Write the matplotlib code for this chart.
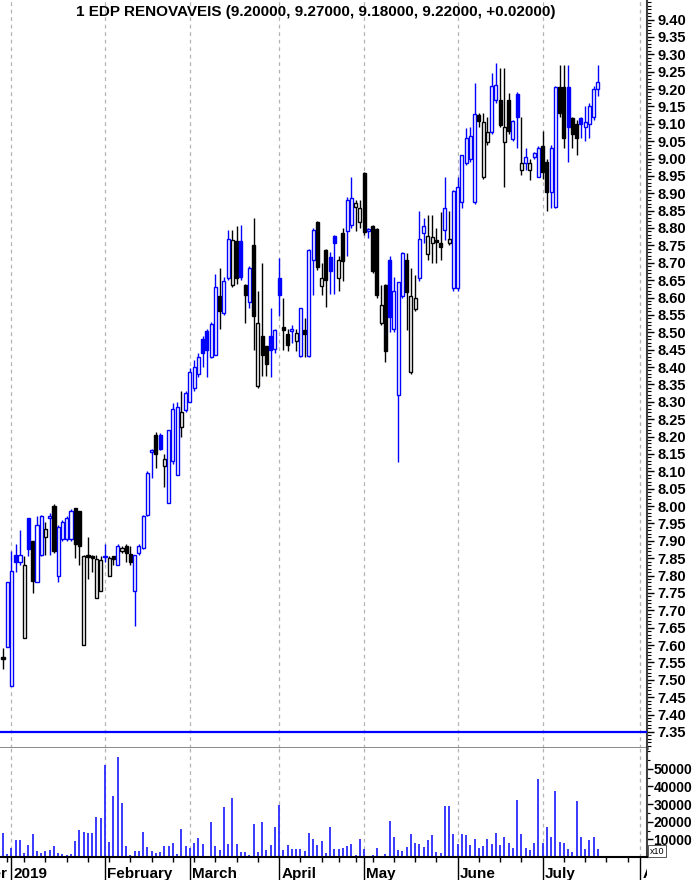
import matplotlib
matplotlib.use("Agg")
import matplotlib.pyplot as plt
from matplotlib import font_manager
from matplotlib.ticker import MultipleLocator
import numpy as np
import pandas as pd

# ---------------- data ----------------
symbol = "1 EDP RENOVAVEIS"
holidays = ['2019-01-01', '2019-04-19', '2019-04-22', '2019-05-01']

opens = [
    7.565, 7.595,
    7.483, 7.86, 7.84, 7.62, 7.965, 7.90, 7.78, 7.86, 7.91, 7.965, 8.00, 7.80, 7.905, 7.905, 7.905, 7.995, 7.985, 7.60, 7.86, 7.855, 7.735, 7.755,
    7.852, 7.80, 7.855, 7.83, 7.87, 7.885, 7.862, 7.755, 7.865, 7.88, 7.975, 8.155, 8.205, 8.205, 8.115, 8.01, 8.13, 8.09, 8.227, 8.275,
    8.30, 8.34, 8.38, 8.48, 8.505, 8.43, 8.435, 8.605, 8.555, 8.655, 8.636, 8.763, 8.763, 8.636, 8.588, 8.75, 8.345, 8.489, 8.46, 8.489, 8.451,
    8.655, 8.516, 8.495, 8.505, 8.476, 8.432, 8.506, 8.432, 8.708, 8.818, 8.633, 8.737, 8.716, 8.777, 8.655, 8.786, 8.79, 8.81, 8.86, 8.818,
    8.959, 8.79, 8.806, 8.796, 8.526, 8.636, 8.708, 8.51, 8.32, 8.604, 8.708, 8.387, 8.566, 8.655, 8.787, 8.725, 8.758, 8.765, 8.756, 8.794, 8.758, 8.627,
    8.627, 8.876, 8.986, 9.00, 8.874, 9.125, 8.948, 9.048, 9.077, 9.168, 9.168, 9.048, 9.168, 9.055, 9.186, 8.967, 8.986, 8.967, 9.005, 8.948,
    9.036, 8.99, 8.905, 8.86, 9.206, 9.206, 9.206, 9.116, 9.10, 9.116, 9.09, 9.10, 9.12, 9.20,
]
highs = [
    7.59, 7.78,
    7.87, 7.89, 7.93, 7.855, 7.965, 7.90, 7.97, 7.975, 7.955, 7.98, 8.005, 7.945, 7.96, 7.97, 7.99, 7.995, 7.985, 7.86, 7.91, 7.86, 7.86, 7.855,
    7.89, 7.856, 7.855, 7.89, 7.885, 7.89, 7.885, 7.86, 7.89, 7.975, 8.10, 8.165, 8.214, 8.21, 8.15, 8.22, 8.297, 8.30, 8.33, 8.33,
    8.397, 8.42, 8.44, 8.49, 8.51, 8.53, 8.667, 8.685, 8.66, 8.794, 8.794, 8.806, 8.81, 8.64, 8.69, 8.828, 8.62, 8.70, 8.46, 8.57, 8.51,
    8.714, 8.598, 8.51, 8.52, 8.51, 8.57, 8.54, 8.74, 8.80, 8.82, 8.70, 8.74, 8.73, 8.78, 8.72, 8.80, 8.89, 8.946, 8.88, 8.88,
    8.96, 8.80, 8.81, 8.80, 8.636, 8.64, 8.72, 8.66, 8.645, 8.73, 8.728, 8.685, 8.665, 8.85, 8.828, 8.837, 8.837, 8.80, 8.847, 8.946, 8.85, 8.91,
    8.946, 9.01, 9.087, 9.09, 9.216, 9.13, 9.13, 9.12, 9.247, 9.274, 9.26, 9.26, 9.189, 9.11, 9.19, 9.119, 9.03, 9.00, 9.02, 9.035,
    9.08, 9.00, 9.04, 9.21, 9.27, 9.27, 9.27, 9.12, 9.11, 9.12, 9.15, 9.16, 9.21, 9.27,
]
lows = [
    7.53, 7.595,
    7.483, 7.81, 7.83, 7.62, 7.855, 7.75, 7.78, 7.855, 7.86, 7.86, 7.865, 7.78, 7.90, 7.90, 7.90, 7.85, 7.83, 7.60, 7.79, 7.81, 7.735, 7.755,
    7.84, 7.80, 7.83, 7.83, 7.865, 7.84, 7.83, 7.655, 7.86, 7.875, 7.97, 8.08, 8.11, 8.16, 8.054, 8.01, 8.12, 8.09, 8.20, 8.27,
    8.30, 8.33, 8.37, 8.40, 8.37, 8.425, 8.435, 8.51, 8.55, 8.65, 8.63, 8.64, 8.65, 8.527, 8.57, 8.449, 8.34, 8.374, 8.374, 8.37, 8.44,
    8.547, 8.449, 8.445, 8.47, 8.445, 8.43, 8.43, 8.43, 8.607, 8.68, 8.607, 8.574, 8.61, 8.61, 8.62, 8.648, 8.72, 8.80, 8.79, 8.80,
    8.78, 8.77, 8.67, 8.60, 8.52, 8.415, 8.50, 8.50, 8.127, 8.60, 8.506, 8.38, 8.56, 8.648, 8.757, 8.708, 8.70, 8.70, 8.708, 8.765, 8.75, 8.62,
    8.62, 8.857, 8.98, 8.99, 8.87, 9.09, 8.94, 9.04, 9.07, 9.16, 9.09, 8.919, 9.07, 9.05, 9.03, 8.953, 8.967, 8.938, 9.00, 8.948,
    8.94, 8.85, 8.857, 8.857, 9.12, 9.03, 8.99, 9.03, 9.01, 9.06, 9.05, 9.06, 9.11, 9.18,
]
closes = [
    7.56, 7.78,
    7.814, 7.84, 7.86, 7.83, 7.875, 7.785, 7.945, 7.97, 7.935, 7.97, 7.87, 7.94, 7.955, 7.965, 7.985, 7.89, 7.885, 7.855, 7.853, 7.85, 7.848, 7.845,
    7.856, 7.85, 7.847, 7.885, 7.88, 7.865, 7.84, 7.86, 7.885, 7.97, 8.096, 8.16, 8.15, 8.165, 8.135, 8.22, 8.28, 8.285, 8.27, 8.325,
    8.387, 8.40, 8.43, 8.44, 8.45, 8.525, 8.63, 8.562, 8.648, 8.767, 8.765, 8.655, 8.66, 8.607, 8.684, 8.547, 8.526, 8.434, 8.41, 8.449, 8.506,
    8.607, 8.506, 8.463, 8.508, 8.499, 8.569, 8.495, 8.738, 8.794, 8.689, 8.655, 8.65, 8.677, 8.758, 8.708, 8.705, 8.88, 8.885, 8.873, 8.857,
    8.789, 8.797, 8.677, 8.607, 8.578, 8.447, 8.545, 8.62, 8.645, 8.727, 8.617, 8.604, 8.598, 8.767, 8.806, 8.777, 8.775, 8.76, 8.746, 8.857, 8.767, 8.907,
    8.917, 9.01, 9.058, 9.065, 9.128, 9.108, 9.106, 9.077, 9.209, 9.212, 9.096, 9.09, 9.08, 9.108, 9.119, 8.986, 9.005, 8.986, 9.015, 9.03,
    8.96, 8.905, 9.03, 9.206, 9.13, 9.06, 9.09, 9.07, 9.058, 9.10, 9.106, 9.15, 9.20, 9.22,
]
volumes = [
    13400, 1700,
    4900, 9600, 9600, 2100, 6800, 12800, 3400, 2100, 3400, 4000, 6200, 2100, 1700, 1100, 1700, 9100, 15300, 14000, 13400, 13400, 22500, 21900,
    52100, 8700, 34600, 56500, 30800, 6200, 1100, 3400, 3400, 14000, 5500, 3400, 2500, 3000, 6300, 6300, 7700, 1700, 16000, 6300,
    4900, 7700, 11000, 7200, 600, 19700, 6300, 4000, 28500, 7200, 33300, 7200, 2800, 2800, 1100, 18800, 2800, 19700, 3800, 6600, 16900,
    29500, 4000, 6600, 4700, 4700, 4700, 3400, 13600, 10400, 6600, 8900, 2000, 16900, 4300, 4300, 4900, 6300, 7500, 1100, 10400,
    4300, 800, 1100, 4900, 200, 1700, 20600, 11300, 4000, 3600, 5500, 13200, 7700, 7400, 5500, 9900, 12700, 2600, 2500, 28900, 28900, 13200,
    7400, 13200, 12700, 6600, 10400, 5300, 6300, 10100, 7200, 13800, 6600, 11500, 7700, 5300, 32300, 13200, 5300, 4000, 7700, 44200,
    7800, 16800, 11200, 37400, 8300, 7800, 4400, 2700, 31700, 11200, 4400, 9600, 11500, 4400,
]
price_ticks = np.round(np.arange(7.35, 9.4001, 0.05), 2)
volume_ticks = [10000, 20000, 30000, 40000, 50000]
hline_level = 7.35

# ---------------- helpers ----------------
def has_font(name):
    try:
        font_manager.findfont(font_manager.FontProperties(family=name), fallback_to_default=False)
        return True
    except Exception:
        return False

BASE = 'Liberation Sans' if has_font('Liberation Sans') else 'DejaVu Sans'
plt.rcParams['font.family'] = [BASE, 'DejaVu Sans']
if has_font('Liberation Sans Narrow'):
    TITLE_FAM, TITLE_SIZE = ['Liberation Sans Narrow', BASE], 12.5
else:
    TITLE_FAM, TITLE_SIZE = [BASE], 11

o = np.array(opens); h = np.array(highs); l = np.array(lows); c = np.array(closes)
v = np.array(volumes)
n = len(c)
dates_all = pd.bdate_range('2018-12-28', '2019-08-30', freq='C', holidays=holidays)
x = np.arange(n)

BLUE = '#0000ff'
W, H = 694, 880
fig = plt.figure(figsize=(W / 100, H / 100), dpi=100)
PX0, STEP, XR = 3.0, 4.249, 647
xlim = (-PX0 / STEP, (XR - PX0) / STEP)

def rect(x0, y0, x1, y1):
    return [x0 / W, 1 - y1 / H, (x1 - x0) / W, (y1 - y0) / H]

ax = fig.add_axes(rect(0, 0, XR, 748))
axv = fig.add_axes(rect(0, 748, XR, 857))
axl = fig.add_axes(rect(0, 857, XR, 880))

# month / week boundaries
month_first = [i for i in range(1, len(dates_all)) if dates_all[i].month != dates_all[i - 1].month]
week_first = [i for i in range(1, len(dates_all))
              if dates_all[i].isocalendar()[1] != dates_all[i - 1].isocalendar()[1] and i not in month_first]

# ---------------- price panel ----------------
PPU = 347.5
ax.set_xlim(*xlim)
ax.set_ylim(9.40 - (748 - 19.5) / PPU, 9.40 + 19.5 / PPU)
for m in month_first:
    ax.axvline(m, color='#b4b4b4', lw=0.9, ls=(0, (3, 3)), zorder=0)
    axv.axvline(m, color='#b4b4b4', lw=0.9, ls=(0, (3, 3)), zorder=0)

prev = np.r_[o[0], c[:-1]]
up = c >= prev
filled = c < o
cols = np.where(up, BLUE, 'black')
faces = [col if f else 'white' for col, f in zip(cols, filled)]
ax.vlines(x, l, h, colors=cols, lw=1.0, zorder=2)
body_lo = np.minimum(o, c)
body_h = np.maximum(np.abs(c - o), 0.003)
ax.bar(x, body_h, bottom=body_lo, width=0.72, color=faces, edgecolor=cols, linewidth=1.0, zorder=3)
ax.axhline(hline_level, color=BLUE, lw=1.6, zorder=4)

title = f"{symbol} ({o[-1]:.5f}, {h[-1]:.5f}, {l[-1]:.5f}, {c[-1]:.5f}, {c[-1]-c[-2]:+.5f})"
ax.text(316 / XR, 1 - 12 / 748, title, transform=ax.transAxes, ha='center', va='center',
        fontsize=TITLE_SIZE, fontweight='bold', family=TITLE_FAM, color='black')

ax.yaxis.set_ticks_position('right')
ax.set_yticks(price_ticks)
ax.set_yticklabels([f"{t:.2f}" for t in price_ticks])
ax.yaxis.set_minor_locator(MultipleLocator(0.01))
ax.tick_params(axis='y', which='major', length=5, width=1, pad=2.5, labelsize=10.5, direction='out')
ax.tick_params(axis='y', which='minor', length=3, width=0.8, direction='out')
for t in ax.get_yticklabels():
    t.set_fontweight('bold')
ax.set_xticks([])
ax.spines['top'].set_visible(False)
ax.spines['left'].set_visible(False)
ax.spines['right'].set_color('#404040'); ax.spines['right'].set_linewidth(1.5)
ax.spines['bottom'].set_color('#808080'); ax.spines['bottom'].set_linewidth(2.0)

# ---------------- volume panel ----------------
VPX = 17.65 / 10000
axv.set_xlim(*xlim)
axv.set_ylim(0, (857 - 748) / VPX)
axv.vlines(x, 0, v, colors='#2a2aff', lw=1.3, zorder=2)
axv.yaxis.set_ticks_position('right')
axv.set_yticks(volume_ticks)
axv.set_yticklabels([f"{t:d}" for t in volume_ticks])
axv.yaxis.set_minor_locator(MultipleLocator(5000))
axv.tick_params(axis='y', which='major', length=4, width=1, pad=0.5, labelsize=10, direction='out')
axv.tick_params(axis='y', which='minor', length=2.5, width=0.8, direction='out')
for t in axv.get_yticklabels():
    t.set_fontweight('bold')
axv.set_xticks([])
axv.spines['top'].set_visible(False)
axv.spines['left'].set_visible(False)
axv.spines['right'].set_color('#404040'); axv.spines['right'].set_linewidth(1.5)
axv.spines['bottom'].set_color('black'); axv.spines['bottom'].set_linewidth(1.5)

fig.text(650 / W, 1 - 851 / H, 'x10', fontsize=6.5, ha='left', va='center',
         bbox=dict(boxstyle='square,pad=0.2', fc='white', ec='#555555', lw=0.7))

# ---------------- date strip ----------------
axl.set_xlim(*xlim)
axl.set_ylim(0, 23)
axl.axis('off')
axl.vlines(month_first, 0, 23, colors='black', lw=1.0)
axl.vlines(week_first, 18, 23, colors='black', lw=1.0)
for m in month_first:
    d = dates_all[m]
    lab = str(d.year) if d.month == 1 else d.strftime('%B')
    axl.text(m + 0.5, 2.3, lab, ha='left', va='baseline', fontsize=11, fontweight='bold', clip_on=True)
axl.text(month_first[0] - 1.1, 2.3, 'December', ha='right', va='baseline', fontsize=11,
         fontweight='bold', clip_on=True)

fig.savefig('out.png', dpi=100)
